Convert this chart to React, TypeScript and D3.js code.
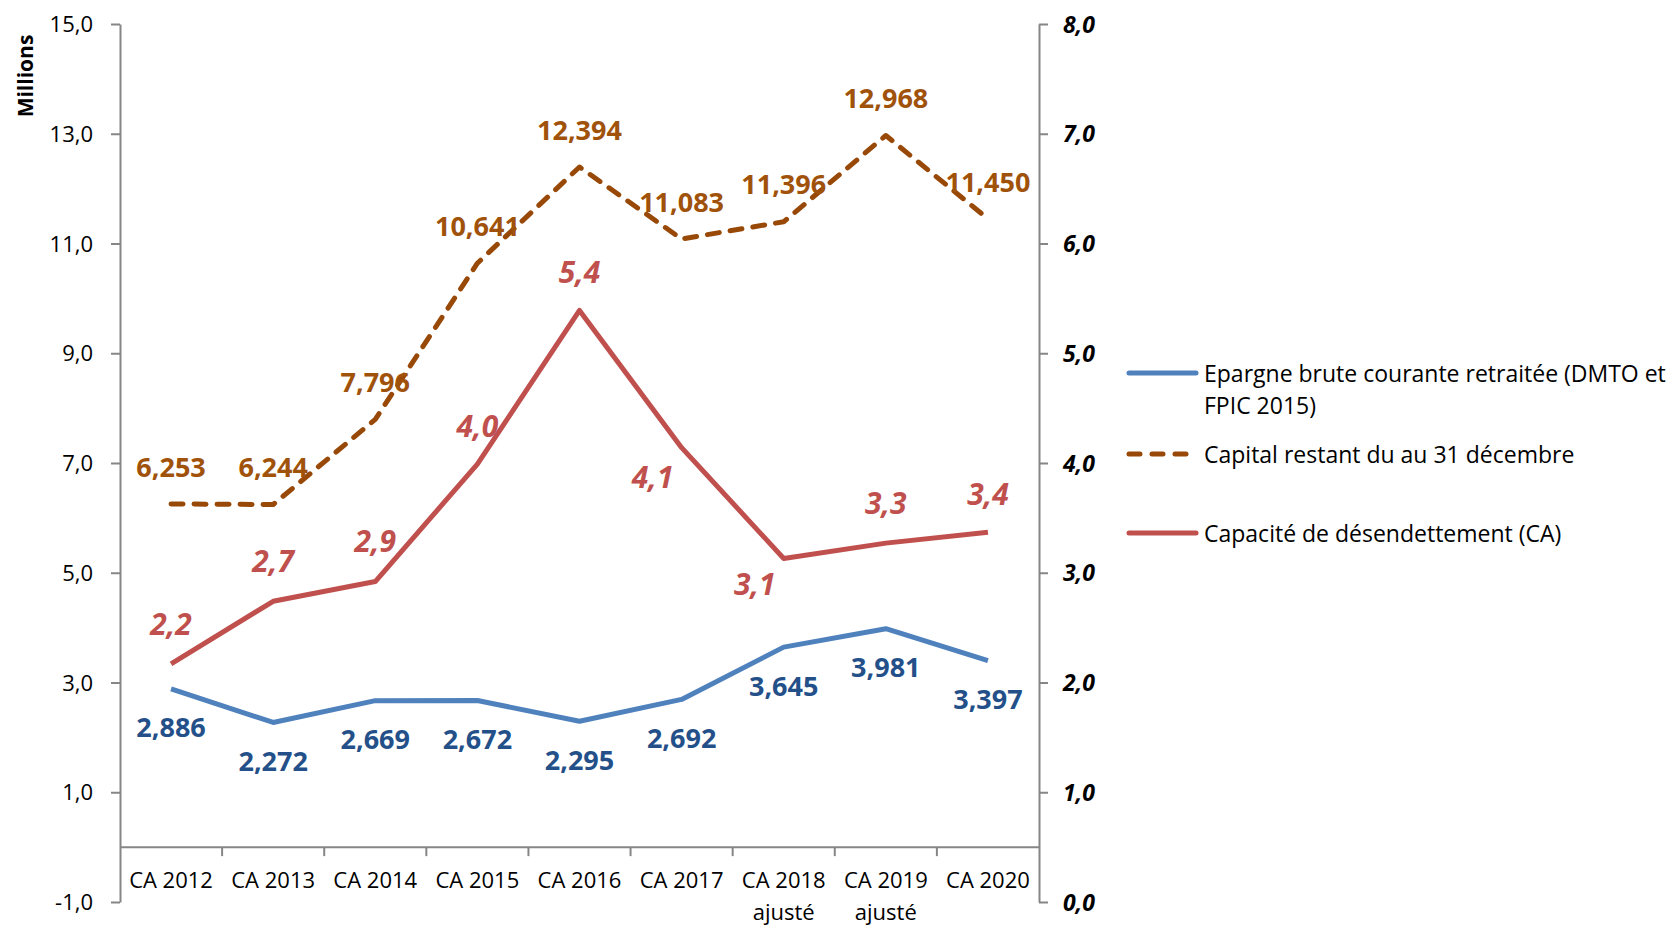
import React, { useEffect, useRef } from 'react';
import * as d3 from 'd3';

const categories = ['CA 2012', 'CA 2013', 'CA 2014', 'CA 2015', 'CA 2016', 'CA 2017', 'CA 2018\najusté', 'CA 2019\najusté', 'CA 2020'];
const epargne = [2.886, 2.272, 2.669, 2.672, 2.295, 2.692, 3.645, 3.981, 3.397];
const capital = [6.253, 6.244, 7.796, 10.641, 12.394, 11.083, 11.396, 12.968, 11.45];
const capacite = [2.17, 2.74, 2.92, 3.99, 5.39, 4.14, 3.13, 3.27, 3.37];
const leftTicks = [-1, 1, 3, 5, 7, 9, 11, 13, 15];
const rightTicks = [0, 1, 2, 3, 4, 5, 6, 7, 8];
const legendLabels = [
  'Epargne brute courante retraitée (DMTO et\nFPIC 2015)',
  'Capital restant du au 31 décembre',
  'Capacité de désendettement (CA)',
];

// label offsets for the red series (Excel had a couple moved by hand)
const redOffsets = [[0, -40], [0, -40], [0, -40], [0, -38], [0, -38], [-29, 30], [-29, 26], [0, -40], [0, -38]];

const FONT = '"Open Sans", sans-serif';
const fmt = (d: number, n: number) => d.toFixed(n).replace('.', ',');

function App() {
  const ref = useRef<SVGSVGElement>(null);

  useEffect(() => {
    const svg = d3.select(ref.current);
    svg.selectAll('*').remove();

    const left = 120, right = 1039, top = 24, bottom = 902;

    const x = d3.scaleBand().domain(categories).range([left, right]);
    const cx = (i: number) => x(categories[i])! + x.bandwidth() / 2;
    const yL = d3.scaleLinear().domain([-1, 15]).range([bottom, top]);
    const yR = d3.scaleLinear().domain([0, 8]).range([bottom, top]);

    // left axis
    const gl = svg.append('g')
      .attr('transform', `translate(${left},0)`)
      .call(d3.axisLeft(yL).tickValues(leftTicks).tickSize(9).tickSizeOuter(0).tickFormat(d => fmt(+d, 1)));
    gl.selectAll('text').attr('font-size', 22).attr('font-family', FONT).attr('fill', '#000').attr('dx', -15).attr('dy', '0.35em');

    // right axis
    const gr = svg.append('g')
      .attr('transform', `translate(${right},0)`)
      .call(d3.axisRight(yR).tickValues(rightTicks).tickSize(9).tickSizeOuter(0).tickFormat(d => fmt(+d, 1)));
    gr.selectAll('text').attr('font-size', 23).attr('font-family', FONT).attr('font-weight', 'bold')
      .attr('font-style', 'italic').attr('fill', '#000').attr('dx', 12).attr('dy', '0.35em');

    svg.selectAll('.domain, .tick line').attr('stroke', '#868686').attr('stroke-width', 2);

    // category axis crossing at 0
    const y0 = yL(0);
    svg.append('line').attr('x1', left).attr('x2', right).attr('y1', y0).attr('y2', y0)
      .attr('stroke', '#868686').attr('stroke-width', 2);
    svg.append('g').selectAll('line').data(categories.slice(1)).join('line')
      .attr('x1', d => x(d)!).attr('x2', d => x(d)!).attr('y1', y0).attr('y2', y0 + 9)
      .attr('stroke', '#868686').attr('stroke-width', 2);
    const cat = svg.append('g').selectAll('text').data(categories).join('text')
      .attr('x', (d, i) => cx(i)).attr('y', y0 + 41)
      .attr('text-anchor', 'middle').attr('font-size', 22).attr('font-family', FONT);
    cat.selectAll('tspan').data(d => d.split('\n')).join('tspan')
      .attr('x', function () { return (this.parentNode as SVGTextElement).getAttribute('x'); })
      .attr('dy', (d, i) => (i === 0 ? 0 : 32)).text(d => d);

    // Millions
    svg.append('text').attr('transform', 'translate(33,76) rotate(-90)')
      .attr('text-anchor', 'middle').attr('font-size', 21).attr('font-weight', 'bold')
      .attr('font-family', FONT).text('Millions');

    const lineL = d3.line<number>().x((d, i) => cx(i)).y(d => yL(d));
    const lineR = d3.line<number>().x((d, i) => cx(i)).y(d => yR(d));

    svg.append('path').datum(epargne).attr('d', lineL).attr('fill', 'none')
      .attr('stroke', '#4F81BD').attr('stroke-width', 5).attr('stroke-linejoin', 'round');
    svg.append('path').datum(capital).attr('d', lineL).attr('fill', 'none')
      .attr('stroke', '#984807').attr('stroke-width', 5).attr('stroke-dasharray', '12 11')
      .attr('stroke-linecap', 'round').attr('stroke-linejoin', 'round');
    svg.append('path').datum(capacite).attr('d', lineR).attr('fill', 'none')
      .attr('stroke', '#C0504D').attr('stroke-width', 5).attr('stroke-linejoin', 'round');

    const labels = (data: number[], y: (v: number) => number, color: string, dec: number,
      off: (i: number) => number[], size: number, italic = false) =>
      svg.append('g').selectAll('text').data(data).join('text')
        .attr('x', (d, i) => cx(i) + off(i)[0]).attr('y', (d, i) => y(d) + off(i)[1])
        .attr('dy', '0.36em').attr('text-anchor', 'middle')
        .attr('font-size', size).attr('font-weight', 'bold').attr('font-family', FONT)
        .attr('font-style', italic ? 'italic' : 'normal').attr('fill', color)
        .text(d => fmt(d, dec));

    labels(epargne, yL, '#24508A', 3, () => [0, 39], 27);
    labels(capital, yL, '#A0520A', 3, () => [0, -37], 27);
    labels(capacite, yR, '#C0504D', 1, i => redOffsets[i], 30, true);

    // legend
    const legendY = [373, 454, 533];
    const legendStyles = [
      { stroke: '#4F81BD', dash: null },
      { stroke: '#984807', dash: '11 12' },
      { stroke: '#C0504D', dash: null },
    ];
    const lg = svg.append('g').selectAll('g').data(legendLabels).join('g')
      .attr('transform', (d, i) => `translate(1127,${legendY[i]})`);
    lg.append('line').attr('x1', 2).attr('x2', (d, i) => (i === 1 ? 62 : 69)).attr('y1', 0).attr('y2', 0)
      .attr('stroke', (d, i) => legendStyles[i].stroke).attr('stroke-width', 5)
      .attr('stroke-linecap', 'round').attr('stroke-dasharray', (d, i) => legendStyles[i].dash);
    const lt = lg.append('text').attr('x', 77).attr('y', 9)
      .attr('font-size', 23).attr('font-family', FONT);
    lt.selectAll('tspan').data(d => d.split('\n')).join('tspan')
      .attr('x', 77).attr('dy', (d, i) => (i === 0 ? 0 : 32)).text(d => d);
  }, []);

  return (
    <svg ref={ref} width="1679" height="926"
      style={{ position: 'absolute', left: 0, top: 0, background: '#fff' }} />
  );
}

export default App;
